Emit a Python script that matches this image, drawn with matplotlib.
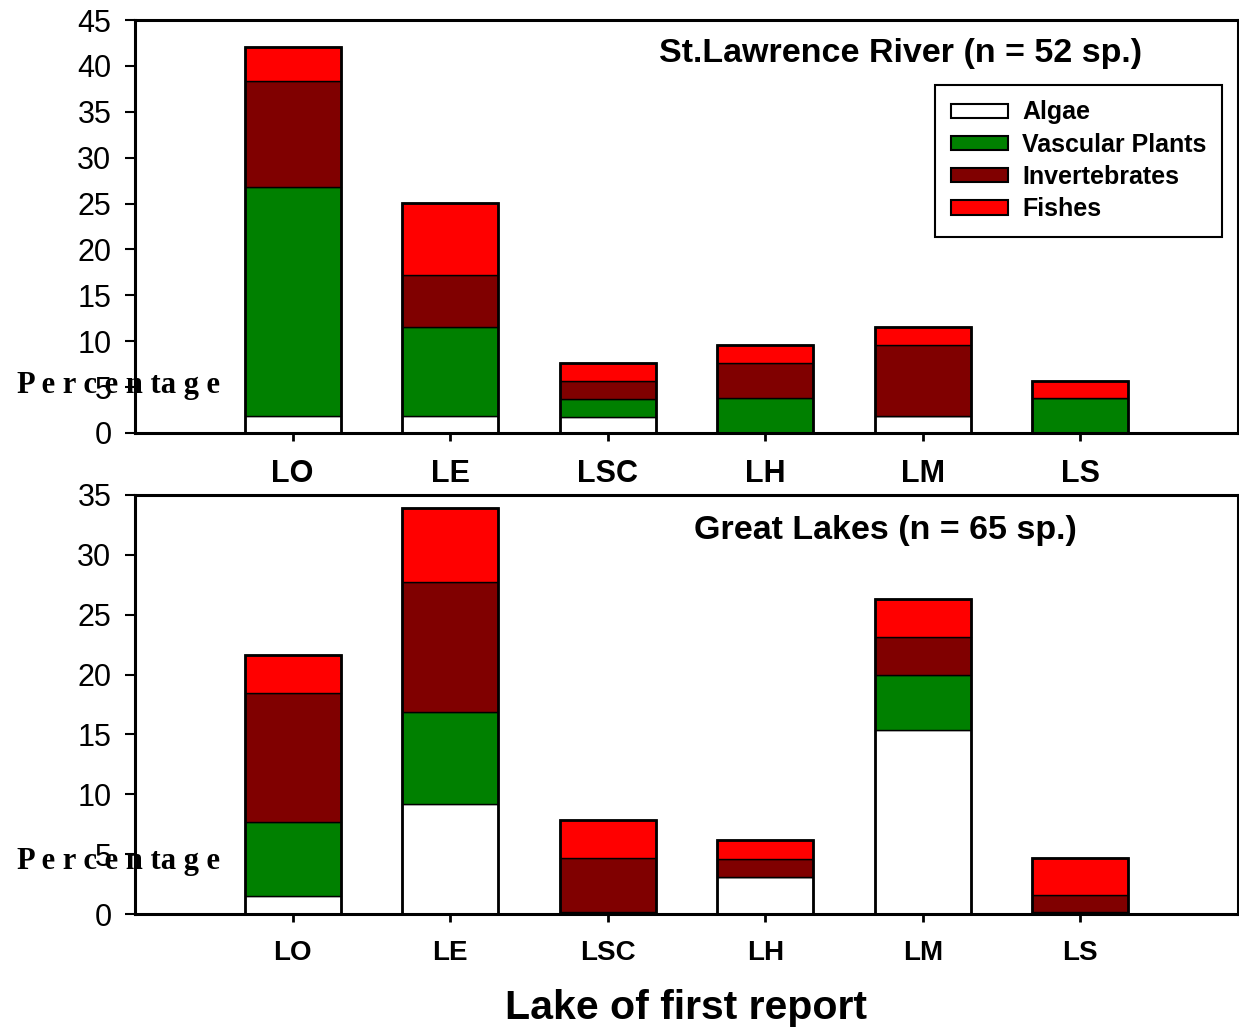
import matplotlib
matplotlib.use("Agg")
import matplotlib.pyplot as plt
from matplotlib.patches import Patch

# === Data ===
lakes = ["LO", "LE", "LSC", "LH", "LM", "LS"]
groups = ["Algae", "Vascular Plants", "Invertebrates", "Fishes"]
colors = ["#FFFFFF", "#008000", "#800000", "#FF0000"]

# St. Lawrence River (n = 52 sp.), percent of species
slr_algae = [1.9, 1.9, 1.7, 0.0, 1.9, 0.0]
slr_plants = [24.9, 9.6, 2.0, 3.85, 0.0, 3.85]
slr_invert = [11.6, 5.7, 1.95, 3.75, 7.65, 0.0]
slr_fishes = [3.7, 7.9, 2.0, 2.0, 2.0, 1.8]

# Great Lakes (n = 65 sp.), percent of species
gl_algae = [1.5, 9.2, 0.15, 3.1, 15.4, 0.15]
gl_plants = [6.2, 7.7, 0.0, 0.0, 4.6, 0.0]
gl_invert = [10.8, 10.8, 4.5, 1.5, 3.1, 1.4]
gl_fishes = [3.1, 6.2, 3.2, 1.6, 3.2, 3.1]

SANS = "Liberation Sans"
SERIF = "Liberation Serif"
W, H = 1239, 1030


def px_axes(fig, left, top, right, bottom):
    """add axes from pixel box"""
    return fig.add_axes([left / W, 1 - bottom / H, (right - left) / W, (bottom - top) / H])


def stacked(ax, series, ymax, ystep, title, tx, ty, label_size):
    x = list(range(1, len(lakes) + 1))
    base = [0.0] * len(lakes)
    for vals, col in zip(series, colors):
        ax.bar(x, vals, bottom=base, width=0.61, color=col, edgecolor="black", linewidth=1.0, zorder=2)
        base = [b + v for b, v in zip(base, vals)]
    # thicker outline round each stack
    ax.bar(x, base, width=0.61, fill=False, edgecolor="black", linewidth=2.0, zorder=3)

    ax.set_xlim(0, 7)
    ax.set_ylim(0, ymax)
    ax.set_yticks(range(0, ymax + 1, ystep))
    ax.set_xticks(x)
    ax.set_xticklabels(lakes, fontsize=label_size, fontweight="bold", family=SANS)
    for lab in ax.get_yticklabels():
        lab.set_fontsize(22)
        lab.set_family(SANS)
    ax.tick_params(axis="x", direction="out", length=6, width=2, pad=13)
    ax.tick_params(axis="y", direction="out", length=7, width=1.5, pad=10)
    for sp in ax.spines.values():
        sp.set_linewidth(2.2)
    ax.text(tx, ty, title, transform=ax.transAxes, ha="center", va="center",
            fontsize=24.5, fontweight="bold", family=SANS)


fig = plt.figure(figsize=(W / 100, H / 100), dpi=100)

ax1 = px_axes(fig, 135, 20, 1238, 433)
stacked(ax1, [slr_algae, slr_plants, slr_invert, slr_fishes], 45, 5,
        "St.Lawrence River (n = 52 sp.)", 0.694, 0.918, 22)

ax2 = px_axes(fig, 135, 495, 1238, 914)
stacked(ax2, [gl_algae, gl_plants, gl_invert, gl_fishes], 35, 5,
        "Great Lakes (n = 65 sp.)", 0.680, 0.916, 20)

# legend in top panel
handles = [Patch(facecolor=c, edgecolor="black", linewidth=1.5) for c in colors]
leg = ax1.legend(handles, groups, loc="upper left", bbox_to_anchor=(935 / W, 1 - 85 / H),
                 bbox_transform=fig.transFigure, borderaxespad=0, fancybox=False,
                 prop={"family": SANS, "weight": "bold", "size": 18},
                 handlelength=2.3, handleheight=0.5, labelspacing=0.33,
                 borderpad=0.62, handletextpad=0.56, framealpha=1)
leg.get_frame().set_edgecolor("black")
leg.get_frame().set_linewidth(1.5)

# odd spaced y labels, as in the original
for ypx in (385, 862):
    fig.text(17 / W, 1 - ypx / H, "P e r c e n ta g e", ha="left", va="center",
             fontsize=22, fontweight="bold", family=SERIF)

fig.text(686 / W, 1 - 1008 / H, "Lake of first report", ha="center", va="center",
         fontsize=29.5, fontweight="bold", family=SANS)

fig.savefig("out.png", dpi=100)
